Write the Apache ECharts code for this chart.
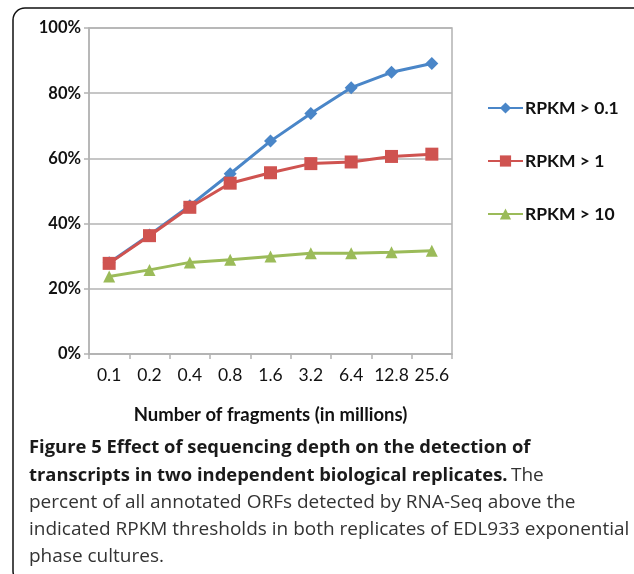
<!DOCTYPE html>
<html>
<head>
<meta charset="utf-8">
<script src="https://cdn.jsdelivr.net/npm/echarts@6/dist/echarts.min.js"></script>
<style>
html,body{margin:0;padding:0;background:#fff;}
#chart{width:634px;height:574px;}
</style>
</head>
<body>
<div id="chart"></div>
<script>
var categories = ['0.1','0.2','0.4','0.8','1.6','3.2','6.4','12.8','25.6'];
var rpkm01 = [28, 36.5, 45.5, 55.3, 65.3, 73.8, 81.7, 86.4, 89.1];
var rpkm1 = [27.8, 36.3, 45, 52.4, 55.6, 58.4, 58.9, 60.6, 61.3];
var rpkm10 = [23.8, 25.8, 28.1, 28.9, 29.9, 30.9, 30.9, 31.2, 31.7];
var seriesNames = ['RPKM > 0.1', 'RPKM > 1', 'RPKM > 10'];

var chartFont = 'Lato';
var capFont = '"Open Sans"';

var myChart = echarts.init(document.getElementById('chart'));

function mkSeries(name, data, color, symbol, size) {
	return {
		name: name,
		type: 'line',
		data: data,
		symbol: symbol,
		symbolSize: size,
		lineStyle: { color: color, width: 3 },
		itemStyle: { color: color },
		z: 3
	};
}

myChart.setOption({
	animation: false,
	textStyle: { fontFamily: chartFont },
	grid: {
		left: 89, right: 182, top: 28, bottom: 220,
		show: true,
		borderColor: '#b3b3b3',
		borderWidth: 1.5
	},
	legend: {
		orient: 'vertical',
		left: 482,
		top: 94,
		itemWidth: 35,
		itemHeight: 14,
		itemGap: 35,
		data: seriesNames,
		textStyle: { fontSize: 17.5, fontWeight: 'bold', color: '#111', fontFamily: chartFont, padding: [0, 0, 0, -3] }
	},
	xAxis: {
		type: 'category',
		data: categories,
		boundaryGap: true,
		name: 'Number of fragments (in millions)',
		nameLocation: 'middle',
		nameGap: 52,
		nameTextStyle: { fontSize: 18.5, fontWeight: 'bold', color: '#111' },
		axisLine: { lineStyle: { color: '#b3b3b3', width: 1.5 } },
		axisTick: { show: true, length: 5, lineStyle: { color: '#b3b3b3', width: 1.5 } },
		axisLabel: { interval: 0, fontSize: 17.5, color: '#111', margin: 12 },
		splitLine: { show: false }
	},
	yAxis: {
		type: 'value',
		min: 0, max: 100, interval: 20,
		axisLine: { show: true, lineStyle: { color: '#b3b3b3', width: 1.5 } },
		axisTick: { show: true, length: 5, lineStyle: { color: '#b3b3b3', width: 1.5 } },
		axisLabel: { formatter: '{value}%', fontSize: 16.5, fontWeight: 'bold', color: '#111', margin: 8 },
		splitLine: { show: true, lineStyle: { color: '#b3b3b3', width: 1.5 } }
	},
	series: [
		mkSeries(seriesNames[0], rpkm01, '#4a86c8', 'diamond', 13),
		mkSeries(seriesNames[1], rpkm1, '#cf5350', 'rect', 13),
		mkSeries(seriesNames[2], rpkm10, '#9bbb59', 'triangle', 12)
	],
	graphic: [
		{
			type: 'rect',
			shape: { x: 13, y: 8, width: 640, height: 575, r: 12 },
			style: { fill: null, stroke: '#111', lineWidth: 1.5 },
			silent: true
		},
		{
			type: 'text', left: 29, top: 439,
			style: { text: 'Figure 5 Effect of sequencing depth on the detection of', font: 'bold 18.4px ' + capFont, fill: '#1a1a1a' }
		},
		{
			type: 'text', left: 29, top: 466,
			style: {
				text: '{b|transcripts in two independent biological replicates.} {r|The}',
				rich: {
					b: { font: 'bold 18.4px ' + capFont, fill: '#1a1a1a' },
					r: { font: '19px ' + capFont, fill: '#333' }
				}
			}
		},
		{
			type: 'text', left: 29, top: 493,
			style: { text: 'percent of all annotated ORFs detected by RNA-Seq above the', font: '19px ' + capFont, fill: '#333' }
		},
		{
			type: 'text', left: 29, top: 520,
			style: { text: 'indicated RPKM thresholds in both replicates of EDL933 exponential', font: '19px ' + capFont, fill: '#333' }
		},
		{
			type: 'text', left: 29, top: 547,
			style: { text: 'phase cultures.', font: '19px ' + capFont, fill: '#333' }
		}
	]
});
</script>
</body>
</html>
